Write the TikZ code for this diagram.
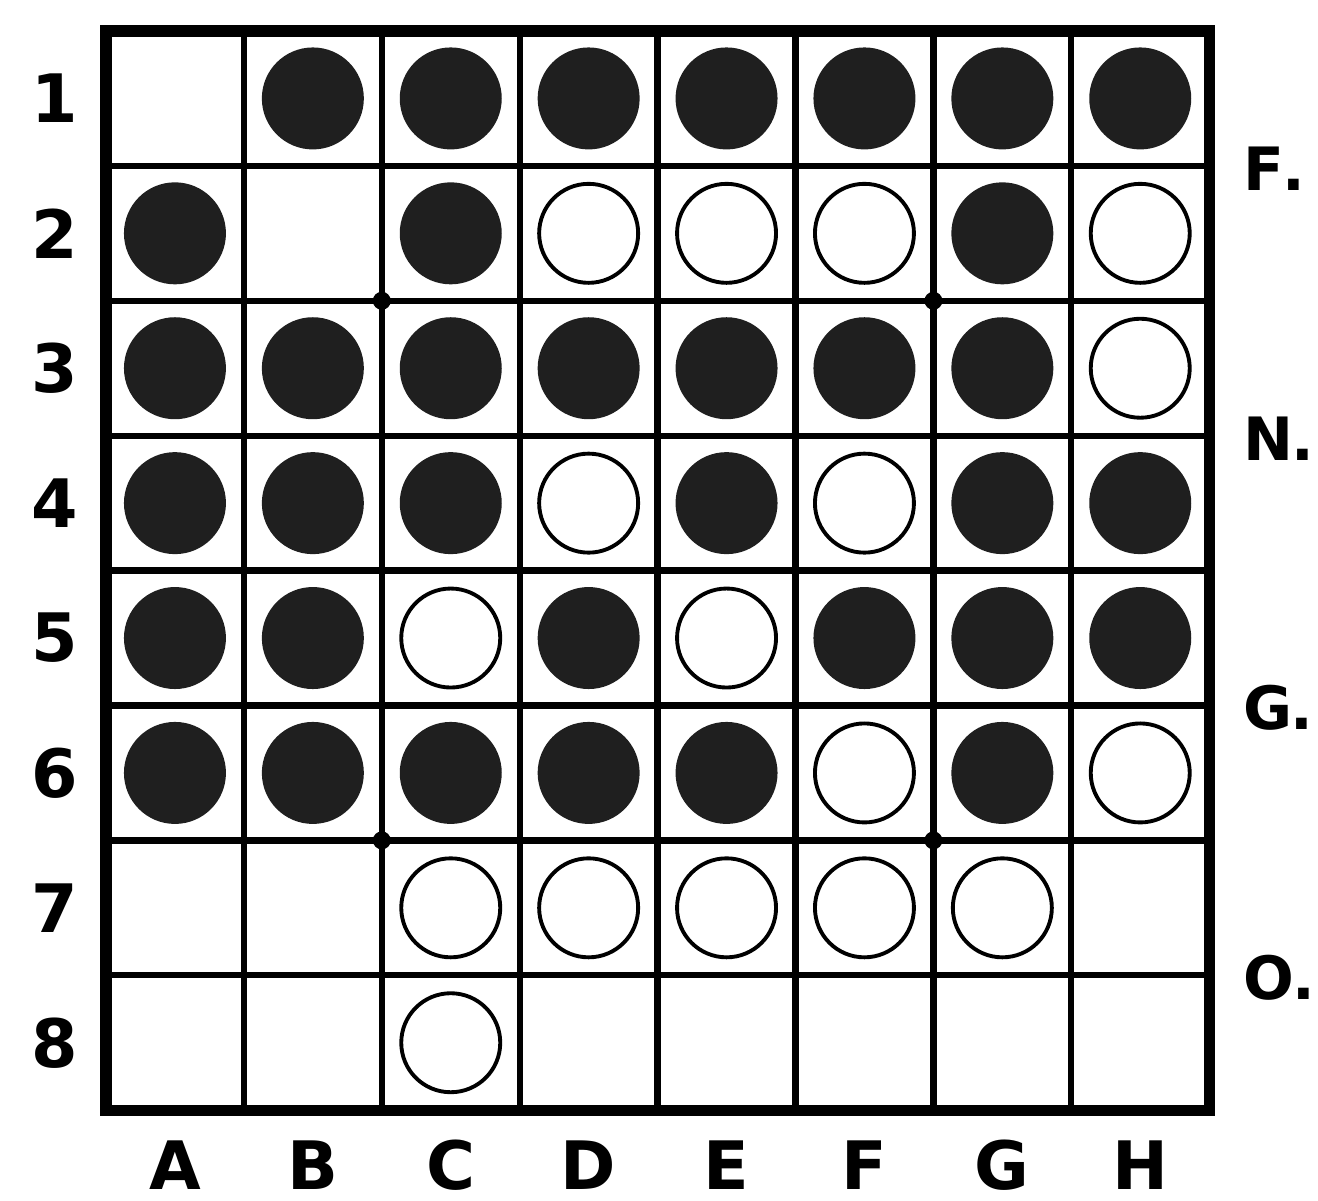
\documentclass[tikz,border=0pt]{standalone}
\usepackage{fontspec}
\setmainfont{DejaVu Sans}
\usepackage{tikz}
\usetikzlibrary{positioning}

\tikzset{
  blackstone/.style={circle, fill=black!88, minimum size=10.2mm, inner sep=0pt},
  whitestone/.style={circle, draw=black, line width=1.1pt, fill=white, minimum size=9.9mm, inner sep=0pt},
  boardlabel/.style={font=\fontsize{19}{19}\selectfont\bfseries, inner sep=0pt},
  sidelabel/.style={font=\fontsize{17}{17}\selectfont\bfseries, inner sep=0pt, anchor=west},
}

\begin{document}
\begin{tikzpicture}[x=0.1mm,y=-0.1mm]
    \useasboundingbox (0,0) rectangle (1318,1201);
    \begin{scope}[shift={(10.6mm,-3.1mm)}, x=13.79mm, y=-13.49mm]
    % grid
    \foreach \i in {1,...,7} {
        \draw[line width=1.8pt] (\i,0) -- (\i,8);
        \draw[line width=1.8pt] (0,\i) -- (8,\i);
    }
    \draw[line width=3.2pt] (0,0) rectangle (8,8);
    % star points
    \foreach \px/\py in {2/2,6/2,2/6,6/6}
        \fill (\px,\py) circle (0.9mm);
    % black stones (column/row)
    \foreach \c/\r in {2/1,3/1,4/1,5/1,6/1,7/1,8/1,
                       1/2,3/2,7/2,
                       1/3,2/3,3/3,4/3,5/3,6/3,7/3,
                       1/4,2/4,3/4,5/4,7/4,8/4,
                       1/5,2/5,4/5,6/5,7/5,8/5,
                       1/6,2/6,3/6,4/6,5/6,7/6}
        \node[blackstone] (st-\c-\r) at (\c-0.5,\r-0.5) {};
    % white stones
    \foreach \c/\r in {4/2,5/2,6/2,8/2,
                       8/3,
                       4/4,6/4,
                       3/5,5/5,
                       6/6,8/6,
                       3/7,4/7,5/7,6/7,7/7,
                       3/8}
        \node[whitestone] (st-\c-\r) at (\c-0.5,\r-0.5) {};
    % row numbers
    \foreach \r in {1,...,8}
        \node[boardlabel] (row-\r) at (-0.37,\r-0.5) {\r};
    % column letters
    \foreach \c/\l in {1/A,2/B,3/C,4/D,5/E,6/F,7/G,8/H}
        \node[boardlabel] (col-\l) at (\c-0.5,8.41) {\l};
    % side letters
    \foreach \r/\l in {1/F,3/N,5/G,7/O}
        \node[sidelabel] (side-\l) at (8.24,\r+0.02) {\l\kern-0.5pt.};
    \end{scope}
\end{tikzpicture}
\end{document}
